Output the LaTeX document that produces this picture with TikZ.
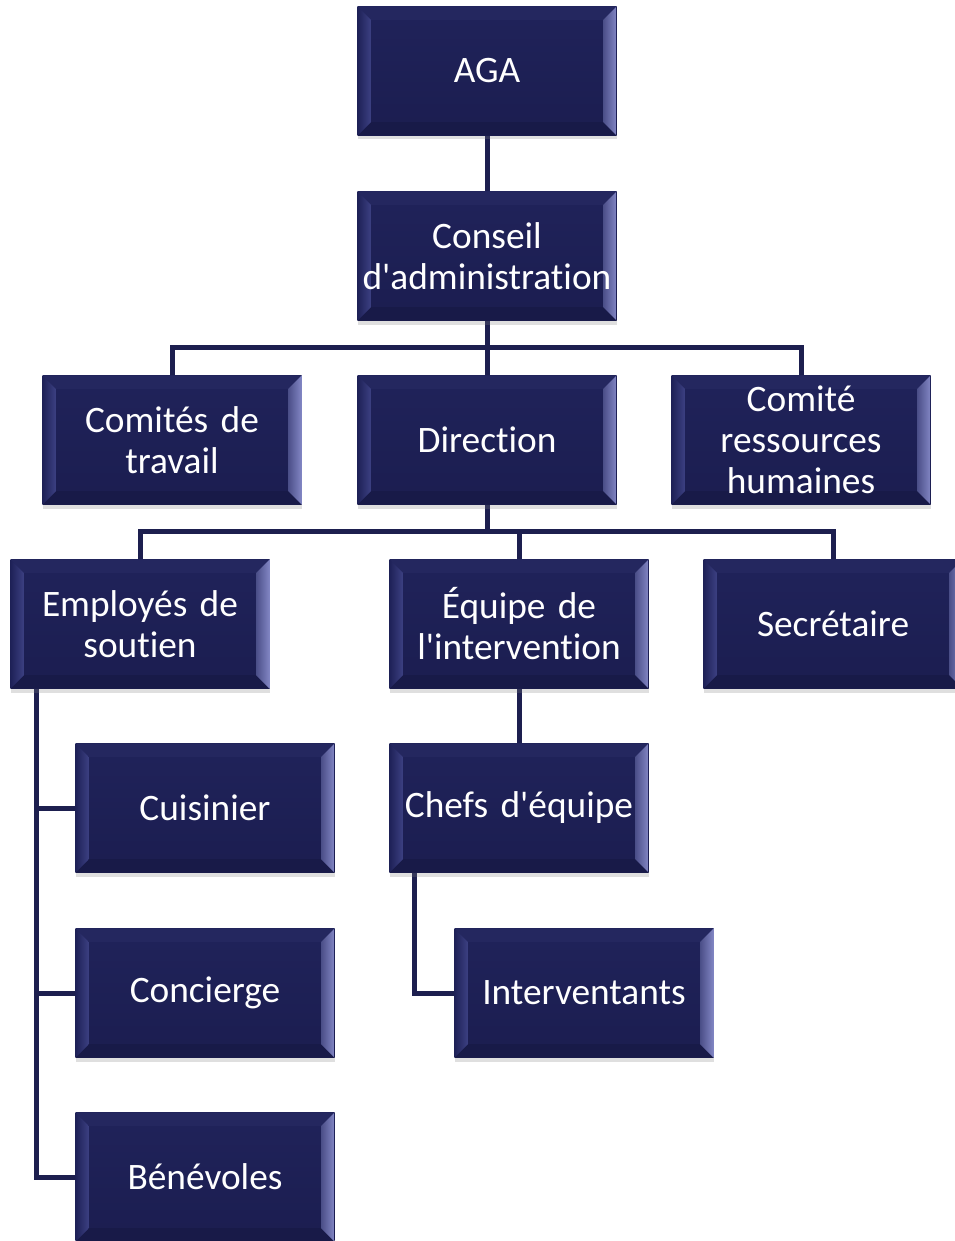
\documentclass[tikz,border=0pt]{standalone}
\usepackage{fontspec}
\newfontfamily\boxfont{Carlito}[Ligatures=NoCommon]
\usetikzlibrary{shadows,backgrounds,calc}
\definecolor{navy}{HTML}{1E2157}
\definecolor{navytop}{HTML}{20235A}
\definecolor{navybot}{HTML}{1B1D50}
\definecolor{conncol}{HTML}{1D1F4F}
\definecolor{bevL}{HTML}{3C4082}
\definecolor{bevR}{HTML}{8286C4}
\definecolor{bevT}{HTML}{24275F}
\definecolor{bevB}{HTML}{181A48}
\tikzset{
  orgbox/.style={rectangle, minimum width=194.25pt, minimum height=96.75pt,
    inner sep=0pt, text width=192pt, align=center, text=white,
    top color=navytop, bottom color=navybot, draw=none,
    font=\boxfont\fontsize{28}{30.75}\selectfont,
    drop shadow={opacity=0.25, shadow xshift=0pt, shadow yshift=-3pt},
    path picture={
      \coordinate (SW) at (path picture bounding box.south west);
      \coordinate (NW) at (path picture bounding box.north west);
      \coordinate (NE) at (path picture bounding box.north east);
      \coordinate (SE) at (path picture bounding box.south east);
      \fill[bevT] (NW) -- (NE) -- ($(NE)+(-10pt,-10pt)$) -- ($(NW)+(10pt,-10pt)$) -- cycle;
      \fill[bevB] (SW) -- (SE) -- ($(SE)+(-10pt,10pt)$) -- ($(SW)+(10pt,10pt)$) -- cycle;
      \shade[left color=navy, right color=bevL] (NW) -- ($(NW)+(10pt,-10pt)$) -- ($(SW)+(10pt,10pt)$) -- (SW) -- cycle;
      \shade[left color=bevR!45!navy, right color=bevR] (NE) -- ($(NE)+(-10pt,-10pt)$) -- ($(SE)+(-10pt,10pt)$) -- (SE) -- cycle;
    }},
  conn/.style={draw=conncol, line width=3.75pt, line cap=rect}
}
\begin{document}
\begin{tikzpicture}[x=0.75pt, y=-0.75pt]
\useasboundingbox (0,0) rectangle (955,1241);
\node[orgbox] (aga) at (487,71) {AGA};
\node[orgbox] (ca) at (487,256) {Conseil\\d'administration};
\node[orgbox] (ct) at (172,440) {Comités de\\travail};
\node[orgbox] (dir) at (487,440) {Direction};
\node[orgbox] (crh) at (801,440) {Comité\\ressources\\humaines};
\node[orgbox] (emp) at (140,624) {Employés de\\soutien};
\node[orgbox] (eq) at (519,624) {Équipe de\\l'intervention};
\node[orgbox] (sec) at (833,624) {Secrétaire};
\node[orgbox] (cu) at (205,808) {Cuisinier};
\node[orgbox] (co) at (205,993) {Concierge};
\node[orgbox] (be) at (205,1177) {Bénévoles};
\node[orgbox] (ch) at (519,808) {Chefs d'équipe};
\node[orgbox] (int) at (584,993) {Interventants};
\coordinate (b1) at (487,347);
\coordinate (b2) at (487,531);
\coordinate (e0) at (36,688);
\coordinate (c0) at (414,872);
\begin{scope}[on background layer]
\draw[conn] (aga.south) -- (ca.north);
\draw[conn] (ca.south) -- (b1) -- (dir.north);
\draw[conn] (ct.north) |- (b1) -| (crh.north);
\draw[conn] (dir.south) -- (b2);
\draw[conn] (emp.north) |- (b2) -| (sec.north);
\draw[conn] (b2) -| (eq.north);
\draw[conn] (eq.south) -- (ch.north);
\draw[conn] (e0) |- (cu.west);
\draw[conn] (e0) |- (co.west);
\draw[conn] (e0) |- (be.west);
\draw[conn] (c0) |- (int.west);
\end{scope}
\end{tikzpicture}
\end{document}
